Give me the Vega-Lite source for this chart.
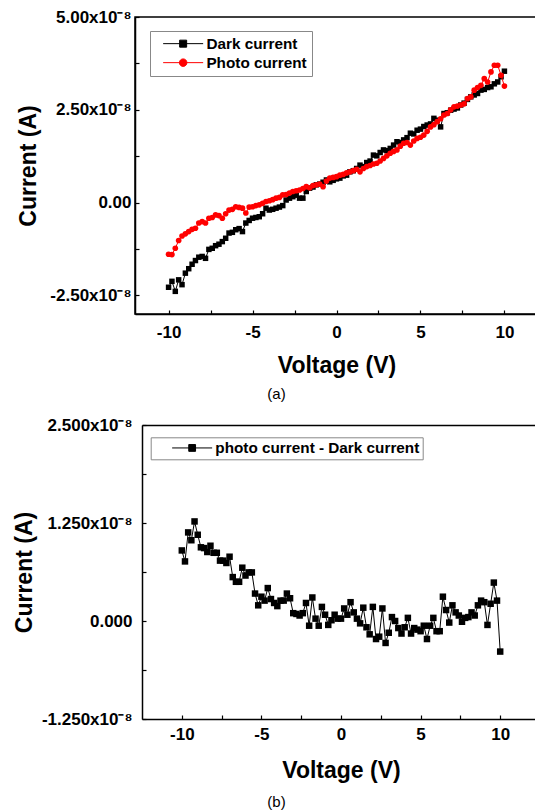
{
  "$schema": "https://vega.github.io/schema/vega-lite/v6.json",
  "background": "white",
  "padding": {"left": 13, "top": 7, "right": 0, "bottom": 0},
  "config": {
    "font": "Liberation Sans",
    "view": {"stroke": "black", "strokeWidth": 1.5},
    "axis": {
      "grid": false,
      "domainColor": "black",
      "domainWidth": 1.5,
      "tickColor": "black",
      "tickWidth": 1.2,
      "tickSize": -4,
      "labelFont": "Liberation Sans",
      "labelFontWeight": "bold",
      "labelFontSize": 17,
      "labelColor": "black",
      "titleFont": "Liberation Sans",
      "titleFontWeight": "bold",
      "titleFontSize": 23,
      "titleColor": "black"
    },
    "legend": {
      "labelFont": "Liberation Sans",
      "labelFontWeight": "bold",
      "labelFontSize": 15.3,
      "labelColor": "black",
      "labelLimit": 400,
      "strokeColor": "#888888",
      "symbolSize": 100,
      "rowPadding": 3
    }
  },
  "datasets": {
    "dark": [
      {"V": -10.0, "I": -2.28e-8}, {"V": -9.8, "I": -2.12e-8}, {"V": -9.6, "I": -2.39e-8}, {"V": -9.4, "I": -2.08e-8}, {"V": -9.2, "I": -2.21e-8},
      {"V": -9.0, "I": -1.90e-8}, {"V": -8.8, "I": -1.78e-8}, {"V": -8.6, "I": -1.66e-8}, {"V": -8.4, "I": -1.56e-8}, {"V": -8.2, "I": -1.47e-8},
      {"V": -8.0, "I": -1.45e-8}, {"V": -7.8, "I": -1.50e-8}, {"V": -7.6, "I": -1.26e-8}, {"V": -7.4, "I": -1.23e-8}, {"V": -7.2, "I": -1.16e-8},
      {"V": -7.0, "I": -1.12e-8}, {"V": -6.8, "I": -1.05e-8}, {"V": -6.6, "I": -0.96e-8}, {"V": -6.4, "I": -0.82e-8}, {"V": -6.2, "I": -0.80e-8},
      {"V": -6.0, "I": -0.73e-8}, {"V": -5.8, "I": -0.70e-8}, {"V": -5.6, "I": -0.78e-8}, {"V": -5.4, "I": -0.55e-8}, {"V": -5.2, "I": -0.48e-8},
      {"V": -5.0, "I": -0.42e-8}, {"V": -4.8, "I": -0.40e-8}, {"V": -4.6, "I": -0.38e-8}, {"V": -4.4, "I": -0.30e-8}, {"V": -4.2, "I": -0.15e-8},
      {"V": -4.0, "I": -0.20e-8}, {"V": -3.8, "I": -0.18e-8}, {"V": -3.6, "I": -0.15e-8}, {"V": -3.4, "I": -0.12e-8}, {"V": -3.2, "I": -0.08e-8},
      {"V": -3.0, "I": 0.07e-8}, {"V": -2.8, "I": 0.12e-8}, {"V": -2.6, "I": 0.16e-8}, {"V": -2.4, "I": 0.20e-8}, {"V": -2.2, "I": 0.12e-8},
      {"V": -2.0, "I": 0.12e-8}, {"V": -1.8, "I": 0.30e-8}, {"V": -1.6, "I": 0.39e-8}, {"V": -1.4, "I": 0.42e-8}, {"V": -1.2, "I": 0.48e-8},
      {"V": -1.0, "I": 0.50e-8}, {"V": -0.8, "I": 0.55e-8}, {"V": -0.6, "I": 0.61e-8}, {"V": -0.4, "I": 0.56e-8}, {"V": -0.2, "I": 0.60e-8},
      {"V": 0.0, "I": 0.64e-8}, {"V": 0.2, "I": 0.66e-8}, {"V": 0.4, "I": 0.72e-8}, {"V": 0.6, "I": 0.74e-8}, {"V": 0.8, "I": 0.83e-8},
      {"V": 1.0, "I": 0.86e-8}, {"V": 1.2, "I": 0.92e-8}, {"V": 1.4, "I": 1.01e-8}, {"V": 1.6, "I": 0.97e-8}, {"V": 1.8, "I": 1.08e-8},
      {"V": 2.0, "I": 1.12e-8}, {"V": 2.2, "I": 1.28e-8}, {"V": 2.4, "I": 1.26e-8}, {"V": 2.6, "I": 1.35e-8}, {"V": 2.8, "I": 1.42e-8},
      {"V": 3.0, "I": 1.40e-8}, {"V": 3.2, "I": 1.46e-8}, {"V": 3.4, "I": 1.55e-8}, {"V": 3.6, "I": 1.64e-8}, {"V": 3.8, "I": 1.62e-8},
      {"V": 4.0, "I": 1.69e-8}, {"V": 4.2, "I": 1.75e-8}, {"V": 4.4, "I": 1.87e-8}, {"V": 4.6, "I": 1.85e-8}, {"V": 4.8, "I": 1.95e-8},
      {"V": 5.0, "I": 1.98e-8}, {"V": 5.2, "I": 2.05e-8}, {"V": 5.4, "I": 2.09e-8}, {"V": 5.6, "I": 2.12e-8}, {"V": 5.8, "I": 2.27e-8},
      {"V": 6.0, "I": 2.22e-8}, {"V": 6.2, "I": 2.04e-8}, {"V": 6.4, "I": 2.40e-8}, {"V": 6.6, "I": 2.42e-8}, {"V": 6.8, "I": 2.49e-8},
      {"V": 7.0, "I": 2.52e-8}, {"V": 7.2, "I": 2.55e-8}, {"V": 7.4, "I": 2.63e-8}, {"V": 7.6, "I": 2.68e-8}, {"V": 7.8, "I": 2.78e-8},
      {"V": 8.0, "I": 2.85e-8}, {"V": 8.2, "I": 2.90e-8}, {"V": 8.4, "I": 2.94e-8}, {"V": 8.6, "I": 3.03e-8}, {"V": 8.8, "I": 3.05e-8},
      {"V": 9.0, "I": 3.10e-8}, {"V": 9.2, "I": 3.12e-8}, {"V": 9.4, "I": 3.20e-8}, {"V": 9.6, "I": 3.25e-8}, {"V": 9.8, "I": 3.39e-8},
      {"V": 10.0, "I": 3.54e-8}
    ],
    "photo": [
      {"V": -10.0, "I": -1.39e-8}, {"V": -9.8, "I": -1.40e-8}, {"V": -9.6, "I": -1.23e-8}, {"V": -9.4, "I": -1.02e-8}, {"V": -9.2, "I": -0.90e-8},
      {"V": -9.0, "I": -0.84e-8}, {"V": -8.8, "I": -0.78e-8}, {"V": -8.6, "I": -0.72e-8}, {"V": -8.4, "I": -0.69e-8}, {"V": -8.2, "I": -0.55e-8},
      {"V": -8.0, "I": -0.51e-8}, {"V": -7.8, "I": -0.55e-8}, {"V": -7.6, "I": -0.42e-8}, {"V": -7.4, "I": -0.40e-8}, {"V": -7.2, "I": -0.33e-8},
      {"V": -7.0, "I": -0.35e-8}, {"V": -6.8, "I": -0.42e-8}, {"V": -6.6, "I": -0.30e-8}, {"V": -6.4, "I": -0.20e-8}, {"V": -6.2, "I": -0.18e-8},
      {"V": -6.0, "I": -0.11e-8}, {"V": -5.8, "I": -0.13e-8}, {"V": -5.6, "I": -0.15e-8}, {"V": -5.4, "I": -0.28e-8}, {"V": -5.2, "I": -0.12e-8},
      {"V": -5.0, "I": -0.11e-8}, {"V": -4.8, "I": -0.08e-8}, {"V": -4.6, "I": -0.06e-8}, {"V": -4.4, "I": -0.02e-8}, {"V": -4.2, "I": 0.03e-8},
      {"V": -4.0, "I": 0.05e-8}, {"V": -3.8, "I": 0.08e-8}, {"V": -3.6, "I": 0.12e-8}, {"V": -3.4, "I": 0.14e-8}, {"V": -3.2, "I": 0.21e-8},
      {"V": -3.0, "I": 0.22e-8}, {"V": -2.8, "I": 0.26e-8}, {"V": -2.6, "I": 0.30e-8}, {"V": -2.4, "I": 0.32e-8}, {"V": -2.2, "I": 0.34e-8},
      {"V": -2.0, "I": 0.38e-8}, {"V": -1.8, "I": 0.43e-8}, {"V": -1.6, "I": 0.40e-8}, {"V": -1.4, "I": 0.46e-8}, {"V": -1.2, "I": 0.48e-8},
      {"V": -1.0, "I": 0.50e-8}, {"V": -0.8, "I": 0.43e-8}, {"V": -0.6, "I": 0.58e-8}, {"V": -0.4, "I": 0.66e-8}, {"V": -0.2, "I": 0.68e-8},
      {"V": 0.0, "I": 0.70e-8}, {"V": 0.2, "I": 0.74e-8}, {"V": 0.4, "I": 0.76e-8}, {"V": 0.6, "I": 0.80e-8}, {"V": 0.8, "I": 0.83e-8},
      {"V": 1.0, "I": 0.86e-8}, {"V": 1.2, "I": 0.90e-8}, {"V": 1.4, "I": 0.83e-8}, {"V": 1.6, "I": 0.92e-8}, {"V": 1.8, "I": 0.97e-8},
      {"V": 2.0, "I": 1.00e-8}, {"V": 2.2, "I": 1.04e-8}, {"V": 2.4, "I": 1.06e-8}, {"V": 2.6, "I": 1.12e-8}, {"V": 2.8, "I": 1.19e-8},
      {"V": 3.0, "I": 1.26e-8}, {"V": 3.2, "I": 1.33e-8}, {"V": 3.4, "I": 1.38e-8}, {"V": 3.6, "I": 1.42e-8}, {"V": 3.8, "I": 1.52e-8},
      {"V": 4.0, "I": 1.60e-8}, {"V": 4.2, "I": 1.62e-8}, {"V": 4.4, "I": 1.55e-8}, {"V": 4.6, "I": 1.66e-8}, {"V": 4.8, "I": 1.73e-8},
      {"V": 5.0, "I": 1.76e-8}, {"V": 5.2, "I": 1.82e-8}, {"V": 5.4, "I": 1.92e-8}, {"V": 5.6, "I": 2.04e-8}, {"V": 5.8, "I": 2.10e-8},
      {"V": 6.0, "I": 2.18e-8}, {"V": 6.2, "I": 2.26e-8}, {"V": 6.4, "I": 2.36e-8}, {"V": 6.6, "I": 2.40e-8}, {"V": 6.8, "I": 2.50e-8},
      {"V": 7.0, "I": 2.58e-8}, {"V": 7.2, "I": 2.60e-8}, {"V": 7.4, "I": 2.63e-8}, {"V": 7.6, "I": 2.66e-8}, {"V": 7.8, "I": 2.80e-8},
      {"V": 8.0, "I": 2.85e-8}, {"V": 8.2, "I": 3.03e-8}, {"V": 8.4, "I": 3.10e-8}, {"V": 8.6, "I": 3.16e-8}, {"V": 8.8, "I": 3.34e-8},
      {"V": 9.0, "I": 3.25e-8}, {"V": 9.2, "I": 3.52e-8}, {"V": 9.4, "I": 3.70e-8}, {"V": 9.6, "I": 3.70e-8}, {"V": 9.8, "I": 3.43e-8},
      {"V": 10.0, "I": 3.14e-8}
    ],
    "diff": [
      {"V": -10.0, "I": 0.90e-8}, {"V": -9.8, "I": 0.76e-8}, {"V": -9.6, "I": 1.13e-8}, {"V": -9.4, "I": 1.03e-8}, {"V": -9.2, "I": 1.27e-8},
      {"V": -9.0, "I": 1.10e-8}, {"V": -8.8, "I": 0.94e-8}, {"V": -8.6, "I": 0.93e-8}, {"V": -8.4, "I": 0.88e-8}, {"V": -8.2, "I": 0.96e-8},
      {"V": -8.0, "I": 0.87e-8}, {"V": -7.8, "I": 0.87e-8}, {"V": -7.6, "I": 0.77e-8}, {"V": -7.4, "I": 0.77e-8}, {"V": -7.2, "I": 0.74e-8},
      {"V": -7.0, "I": 0.82e-8}, {"V": -6.8, "I": 0.56e-8}, {"V": -6.6, "I": 0.50e-8}, {"V": -6.4, "I": 0.50e-8}, {"V": -6.2, "I": 0.68e-8},
      {"V": -6.0, "I": 0.58e-8}, {"V": -5.8, "I": 0.62e-8}, {"V": -5.6, "I": 0.62e-8}, {"V": -5.4, "I": 0.35e-8}, {"V": -5.2, "I": 0.20e-8},
      {"V": -5.0, "I": 0.31e-8}, {"V": -4.8, "I": 0.26e-8}, {"V": -4.6, "I": 0.42e-8}, {"V": -4.4, "I": 0.28e-8}, {"V": -4.2, "I": 0.23e-8},
      {"V": -4.0, "I": 0.19e-8}, {"V": -3.8, "I": 0.26e-8}, {"V": -3.6, "I": 0.26e-8}, {"V": -3.4, "I": 0.35e-8}, {"V": -3.2, "I": 0.29e-8},
      {"V": -3.0, "I": 0.10e-8}, {"V": -2.8, "I": 0.09e-8}, {"V": -2.6, "I": 0.07e-8}, {"V": -2.4, "I": 0.10e-8}, {"V": -2.2, "I": 0.23e-8},
      {"V": -2.0, "I": -0.06e-8}, {"V": -1.8, "I": 0.30e-8}, {"V": -1.6, "I": 0.03e-8}, {"V": -1.4, "I": -0.06e-8}, {"V": -1.2, "I": 0.18e-8},
      {"V": -1.0, "I": 0.08e-8}, {"V": -0.8, "I": -0.05e-8}, {"V": -0.6, "I": 0.01e-8}, {"V": -0.4, "I": 0.08e-8}, {"V": -0.2, "I": 0.03e-8},
      {"V": 0.0, "I": 0.03e-8}, {"V": 0.2, "I": 0.16e-8}, {"V": 0.4, "I": 0.08e-8}, {"V": 0.6, "I": 0.24e-8}, {"V": 0.8, "I": 0.11e-8},
      {"V": 1.0, "I": 0.03e-8}, {"V": 1.2, "I": -0.03e-8}, {"V": 1.4, "I": 0.17e-8}, {"V": 1.6, "I": -0.08e-8}, {"V": 1.8, "I": -0.17e-8},
      {"V": 2.0, "I": 0.18e-8}, {"V": 2.2, "I": -0.23e-8}, {"V": 2.4, "I": -0.20e-8}, {"V": 2.6, "I": 0.16e-8}, {"V": 2.8, "I": -0.28e-8},
      {"V": 3.0, "I": -0.15e-8}, {"V": 3.2, "I": 0.05e-8}, {"V": 3.4, "I": 0.00}, {"V": 3.6, "I": -0.09e-8}, {"V": 3.8, "I": -0.16e-8},
      {"V": 4.0, "I": -0.08e-8}, {"V": 4.2, "I": 0.04e-8}, {"V": 4.4, "I": -0.16e-8}, {"V": 4.6, "I": -0.09e-8}, {"V": 4.8, "I": -0.11e-8},
      {"V": 5.0, "I": -0.13e-8}, {"V": 5.2, "I": -0.06e-8}, {"V": 5.4, "I": -0.23e-8}, {"V": 5.6, "I": -0.06e-8}, {"V": 5.8, "I": 0.04e-8},
      {"V": 6.0, "I": -0.13e-8}, {"V": 6.2, "I": -0.13e-8}, {"V": 6.4, "I": 0.31e-8}, {"V": 6.6, "I": 0.14e-8}, {"V": 6.8, "I": -0.02e-8},
      {"V": 7.0, "I": 0.20e-8}, {"V": 7.2, "I": 0.11e-8}, {"V": 7.4, "I": 0.07e-8}, {"V": 7.6, "I": -0.01e-8}, {"V": 7.8, "I": 0.04e-8},
      {"V": 8.0, "I": 0.05e-8}, {"V": 8.2, "I": 0.11e-8}, {"V": 8.4, "I": 0.07e-8}, {"V": 8.6, "I": 0.20e-8}, {"V": 8.8, "I": 0.26e-8},
      {"V": 9.0, "I": 0.24e-8}, {"V": 9.2, "I": -0.05e-8}, {"V": 9.4, "I": 0.22e-8}, {"V": 9.6, "I": 0.49e-8}, {"V": 9.8, "I": 0.26e-8},
      {"V": 10.0, "I": -0.39e-8}
    ]
  },
  "spacing": 13,
  "resolve": {"scale": {"color": "independent"}, "legend": {"color": "independent"}},
  "vconcat": [
    {
      "width": 403,
      "height": 297,
      "title": {"text": "(a)", "orient": "bottom", "anchor": "middle", "frame": "group", "dx": -60, "offset": 10, "fontSize": 15, "fontWeight": "normal", "color": "black", "font": "Liberation Sans"},
      "encoding": {
        "x": {"field": "V", "type": "quantitative", "scale": {"domain": [-12, 12], "nice": false, "zero": false},
          "axis": {"title": "Voltage (V)", "values": [-10, -7.5, -5, -2.5, 0, 2.5, 5, 7.5, 10], "labelExpr": "datum.value % 5 == 0 ? '' + datum.value : ''", "labelPadding": 14, "titlePadding": 14}},
        "y": {"field": "I", "type": "quantitative", "scale": {"domain": [-3e-8, 5e-8], "nice": false, "zero": false},
          "axis": {"title": "Current (A)", "values": [-2.5e-8, -1.25e-8, 0, 1.25e-8, 2.5e-8, 3.75e-8, 5e-8],
            "labelExpr": "round(datum.value * 1e10) % 250 == 0 ? (abs(datum.value) < 1e-12 ? '0.00' : (datum.value < 0 ? '-' : '') + format(abs(datum.value) * 1e8, '.2f') + 'x10⁻⁸') : ''",
            "labelPadding": 8, "titlePadding": 9}}
      },
      "layer": [
        {"data": {"name": "dark"}, "mark": {"type": "line", "strokeWidth": 1},
          "encoding": {"color": {"datum": "Dark current", "type": "nominal",
            "scale": {"domain": ["Dark current", "Photo current"], "range": ["black", "red"]},
            "legend": {"title": null, "orient": "none", "legendX": 15, "legendY": 14, "padding": 5,
              "symbolOffset": 20.5, "labelOffset": 15.6,
              "labelExpr": "datum.label + '\u00a0\u00a0'",
              "encode": {"symbols": {"update": {
                "shape": {"signal": "datum.value == 'Dark current' ? 'M-4,0L4,0M-0.7,-0.7L0.7,-0.7L0.7,0.7L-0.7,0.7Z' : 'M-4,0L4,0M0.75,0A0.75,0.75,0,1,1,-0.75,0A0.75,0.75,0,1,1,0.75,0Z'"},
                "fill": {"signal": "datum.value == 'Dark current' ? 'black' : 'red'"},
                "stroke": {"signal": "datum.value == 'Dark current' ? 'black' : 'red'"},
                "strokeWidth": {"value": 1},
                "opacity": {"value": 1}}}}}}}},
        {"data": {"name": "dark"}, "mark": {"type": "point", "shape": "square", "filled": true, "size": 30, "opacity": 1},
          "encoding": {"color": {"datum": "Dark current", "type": "nominal"}}},
        {"data": {"name": "photo"}, "mark": {"type": "line", "strokeWidth": 1},
          "encoding": {"color": {"datum": "Photo current", "type": "nominal"}}},
        {"data": {"name": "photo"}, "mark": {"type": "point", "shape": "circle", "filled": true, "size": 32, "opacity": 1},
          "encoding": {"color": {"datum": "Photo current", "type": "nominal"}}}
      ]
    },
    {
      "width": 405,
      "height": 294,
      "view": {"stroke": null},
      "title": {"text": "(b)", "orient": "bottom", "anchor": "middle", "frame": "group", "dx": -61, "offset": 13, "fontSize": 15, "fontWeight": "normal", "color": "black", "font": "Liberation Sans"},
      "data": {"name": "diff"},
      "encoding": {
        "y": {"field": "I", "type": "quantitative", "scale": {"domain": [-1.25e-8, 2.5e-8], "nice": false, "zero": false},
          "axis": {"title": "Current (A)", "offset": -7, "values": [-1.25e-8, -0.625e-8, 0, 0.625e-8, 1.25e-8, 1.875e-8, 2.5e-8],
            "labelExpr": "round(datum.value * 1e11) % 1250 == 0 ? (abs(datum.value) < 1e-12 ? '0.000' : (datum.value < 0 ? '-' : '') + format(abs(datum.value) * 1e8, '.3f') + 'x10⁻⁸') : ''",
            "labelPadding": 14, "titlePadding": 5}}
      },
      "resolve": {"axis": {"x": "independent"}},
      "layer": [
        {"mark": {"type": "line", "strokeWidth": 1},
          "encoding": {
            "x": {"field": "V", "type": "quantitative", "scale": {"domain": [-12.94, 12.5], "nice": false, "zero": false},
              "axis": {"title": "Voltage (V)", "titleX": 206, "domainDash": [0, 7, 2000], "values": [-10, -7.5, -5, -2.5, 0, 2.5, 5, 7.5, 10, 12.5], "labelExpr": "datum.value % 5 == 0 ? '' + datum.value : ''", "labelPadding": 11, "titlePadding": 17}},
            "color": {"datum": "photo current - Dark current", "type": "nominal",
            "scale": {"domain": ["photo current - Dark current"], "range": ["black"]},
            "legend": {"title": null, "orient": "none", "legendX": 15.7, "legendY": 12.3, "padding": 3,
              "symbolOffset": 30.8, "labelOffset": 15.5,
              "labelExpr": "datum.label + '\u00a0'",
              "encode": {"symbols": {"update": {
                "shape": {"value": "M-4,0L4,0M-0.68,-0.68L0.68,-0.68L0.68,0.68L-0.68,0.68Z"},
                "fill": {"value": "black"},
                "stroke": {"value": "black"},
                "strokeWidth": {"value": 1},
                "opacity": {"value": 1}}}}}}}},
        {"mark": {"type": "point", "shape": "square", "filled": true, "size": 42, "opacity": 1, "color": "black"},
          "encoding": {
            "x": {"field": "V", "type": "quantitative",
              "axis": {"orient": "top", "title": null, "labels": false, "ticks": false, "domainDash": [0, 7, 2000]}}}}
      ]
    }
  ]
}
